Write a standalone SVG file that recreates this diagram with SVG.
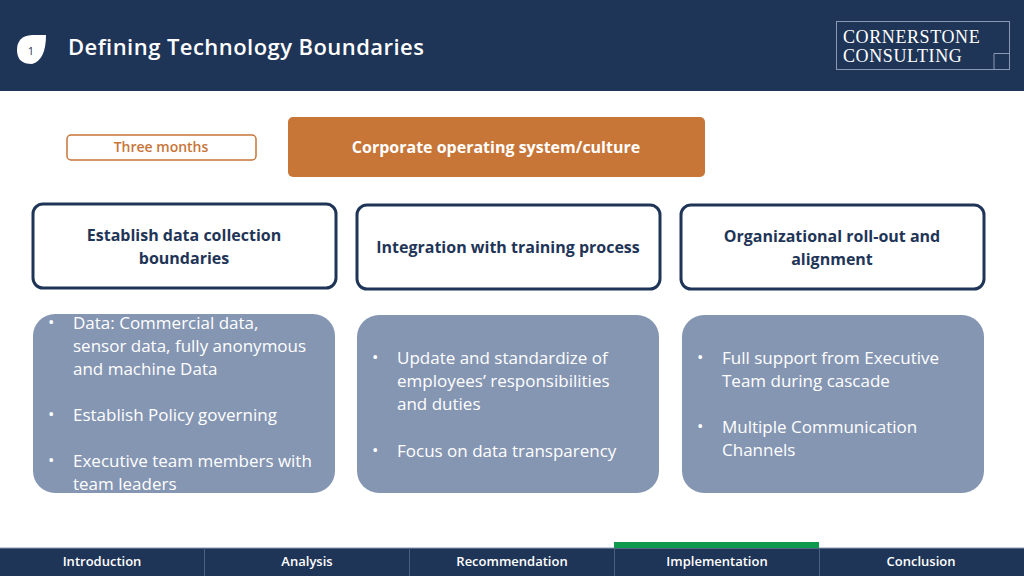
<svg xmlns="http://www.w3.org/2000/svg" width="1024" height="576" viewBox="0 0 1024 576">
<style>
text{font-family:"Open Sans","Noto Sans",sans-serif}
text.lg{font-family:"Liberation Serif",serif;font-size:18px;fill:#fff;letter-spacing:0.6px}
.hd{fill:#fff;stroke:#1f3557;stroke-width:3}
.ht{font-size:16px;font-weight:bold;fill:#1f3557;text-anchor:middle}
.bx{fill:#8596b3}
.bt{font-size:17px;fill:#fff}
.nav{font-size:13px;font-weight:600;fill:#fff;text-anchor:middle}
</style>
<rect width="1024" height="576" fill="#fff"/>
<rect width="1024" height="91" fill="#1f3557"/>
<path d="M17 50 Q17 36 32 35 L46 35 Q46 60 32 64 Q17 64 17 50 Z" fill="#fff"/>
<text x="31" y="55" font-size="11" fill="#1f3557" text-anchor="middle">1</text>
<text x="68" y="55" font-size="22" font-weight="600" fill="#fff" letter-spacing="0.45">Defining Technology Boundaries</text>
<g id="logo">
<rect x="836.500" y="21.500" width="173" height="48" fill="none" stroke="#8a9ab5" stroke-width="1"/>
<path d="M994 69.500 V53.500 H1009.500" fill="none" stroke="#8a9ab5"/>
<text class="lg" x="843" y="43">CORNERSTONE</text>
<text class="lg" x="843" y="62">CONSULTING</text>
</g>
<g id="three">
<rect x="67" y="135" width="189" height="25" rx="4" fill="#fff" stroke="#c87538" stroke-width="1.5"/>
<text x="161" y="152" font-size="14" font-weight="600" fill="#c87538" text-anchor="middle">Three months</text>
</g>
<g id="corp">
<rect x="288" y="117" width="417" height="60" rx="5" fill="#c87538"/>
<text x="496" y="153" font-size="16" font-weight="bold" fill="#fff" text-anchor="middle">Corporate operating system/culture</text>
</g>
<g id="h1"><rect class="hd" x="33" y="204" width="303" height="84" rx="10"/>
<text class="ht" x="184" y="241">Establish data collection</text><text class="ht" x="184" y="264">boundaries</text></g>
<g id="h2"><rect class="hd" x="357" y="205" width="303" height="84" rx="10"/>
<text class="ht" x="508" y="253">Integration with training process</text></g>
<g id="h3"><rect class="hd" x="681" y="205" width="303" height="84" rx="10"/>
<text class="ht" x="832" y="242">Organizational roll-out and</text><text class="ht" x="832" y="265">alignment</text></g>
<g id="b1"><rect class="bx" x="33" y="314" width="302" height="179" rx="22"/>
<g class="bt"><text x="48" y="328">•</text><text x="73" y="329">Data: Commercial data,</text><text x="73" y="352">sensor data, fully anonymous</text><text x="73" y="375">and machine Data</text>
<text x="48" y="420">•</text><text x="73" y="421">Establish Policy governing</text>
<text x="48" y="466">•</text><text x="73" y="467">Executive team members with</text><text x="73" y="490">team leaders</text></g></g>
<g id="b2"><rect class="bx" x="357" y="315" width="302" height="178" rx="22"/>
<g class="bt"><text x="372" y="363">•</text><text x="397" y="364">Update and standardize of</text><text x="397" y="387">employees’ responsibilities</text><text x="397" y="410">and duties</text>
<text x="372" y="456">•</text><text x="397" y="457">Focus on data transparency</text></g></g>
<g id="b3"><rect class="bx" x="682" y="315" width="302" height="178" rx="22"/>
<g class="bt"><text x="697" y="363">•</text><text x="722" y="364">Full support from Executive</text><text x="722" y="387">Team during cascade</text>
<text x="697" y="432">•</text><text x="722" y="433">Multiple Communication</text><text x="722" y="456">Channels</text></g></g>
<g id="nav">
<rect x="0" y="548" width="1024" height="28" fill="#1f3557"/>
<line x1="0" y1="548" x2="1024" y2="548" stroke="#8a9ab5"/>
<rect x="614" y="542" width="205" height="6" fill="#0d9a4f"/>
<g stroke="#4a5f80"><line x1="204.500" y1="548" x2="204.500" y2="576"/><line x1="409.500" y1="548" x2="409.500" y2="576"/><line x1="614.500" y1="548" x2="614.500" y2="576"/><line x1="819.500" y1="548" x2="819.500" y2="576"/></g>
<text class="nav" x="102" y="566">Introduction</text><text class="nav" x="307" y="566">Analysis</text><text class="nav" x="512" y="566">Recommendation</text><text class="nav" x="717" y="566">Implementation</text><text class="nav" x="921" y="566">Conclusion</text>
</g>
</svg>
